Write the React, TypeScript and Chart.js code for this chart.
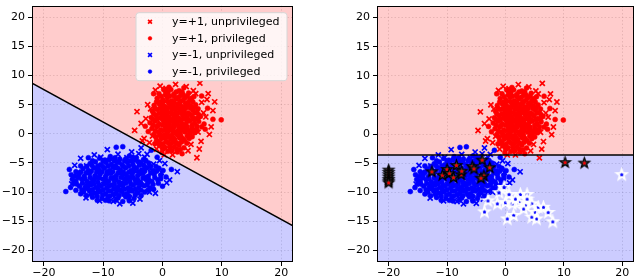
import React, { useEffect, useRef } from 'react';
import { Chart, registerables } from 'chart.js';
import { drawPoint } from 'chart.js/helpers';

Chart.register(...registerables);

// ---------- axis settings ----------
const AXIS_MIN = -22;
const AXIS_MAX = 22;
const X_TICK_STEP = 10;
const Y_TICK_STEP = 5;

// ---------- legend labels ----------
const LABELS = [
  'y=+1, unprivileged',
  'y=+1, privileged',
  'y=-1, unprivileged',
  'y=-1, privileged',
];

// ---------- data: y=+1 (red) ----------
const redUnpriv: number[][] = [
  [-4.3, 3.8], [-4.7, 0.6], [-3.1, -0.8], [6.3, 8.7], [2.2, 8.5], [-0.4, 8.2], [8.8, 5.5], [7.9, -0.1],
  [5.8, -4.1], [1.7, -3.6], [7.7, 6.9], [6.6, 5.4], [7.5, 5.9], [-2.5, 5.0], [-2.8, 2.6], [-3.4, -1.2],
  [-2.2, -1.5], [0.3, -3.6], [4.3, -2.9], [6.5, -1.3], [6.9, 3.6], [8.2, 1.2], [5.2, 7.4], [4.0, 8.1],
  [0.5, -2.6], [3.0, 6.8], [-1.2, 7.5], [4.8, -1.8], [2.6, -0.6], [0.3, 0.0], [1.5, 3.3], [3.8, 5.0],
  [-0.8, 2.3], [5.1, 2.6], [2.1, 5.5], [-1.7, -0.4], [6.2, -2.6], [7.3, 2.9], [-2.0, 4.3], [0.6, 7.8],
  [5.6, 6.9], [-3.6, 1.8], [1.9, -1.6], [4.2, 0.0], [-0.5, -1.5], [2.7, 4.0], [0.2, 5.2], [6.0, 0.3],
  [8.5, 4.0], [-1.0, -2.6],
];
const redPriv: number[][] = [
  [0.2, 7.6], [1.1, 8.0], [2.8, 7.4], [3.6, 7.9], [-0.6, 6.9], [1.9, 6.8], [4.4, 7.0], [0.9, 7.1], [3.1, 6.6],
  [-0.9, 6.1], [0.1, 5.8], [0.8, 6.3], [1.5, 5.7], [2.3, 6.0], [3.0, 5.6], [3.8, 6.2], [4.6, 5.8], [5.3, 6.4],
  [-0.3, 5.5], [2.0, 6.4], [-1.4, 4.9], [-0.5, 5.1], [0.4, 4.7], [1.1, 5.2], [1.8, 4.8], [2.6, 5.1], [3.3, 4.7],
  [4.0, 5.2], [4.8, 4.8], [5.6, 5.0], [0.0, 4.6], [2.2, 4.5], [3.9, 4.4], [-1.7, 3.9], [-0.9, 4.2], [-0.1, 3.8],
  [0.7, 4.1], [1.4, 3.7], [2.1, 4.2], [2.9, 3.8], [3.6, 4.0], [4.3, 3.6], [5.1, 4.1], [5.8, 3.7], [0.3, 3.5],
  [2.5, 3.5], [4.7, 4.4], [-1.9, 2.8], [-1.1, 3.2], [-0.4, 2.7], [0.4, 3.1], [1.2, 2.6], [1.9, 3.0], [2.7, 2.7],
  [3.4, 3.2], [4.1, 2.8], [4.9, 3.1], [5.7, 2.6], [6.4, 3.0], [0.8, 2.5], [3.0, 2.5], [-2.1, 1.9], [-1.3, 2.2],
  [-0.6, 1.7], [0.2, 2.1], [0.9, 1.6], [1.6, 2.2], [2.4, 1.8], [3.1, 2.1], [3.9, 1.6], [4.6, 2.2], [5.4, 1.8],
  [6.1, 2.1], [7.0, 1.7], [1.2, 1.5], [3.5, 1.5], [-1.8, 0.9], [-1.0, 1.2], [-0.3, 0.7], [0.5, 1.1], [1.3, 0.6],
  [2.0, 1.2], [2.8, 0.8], [3.5, 1.1], [4.3, 0.6], [5.0, 1.0], [5.8, 0.7], [0.9, 0.5], [2.4, 0.4], [-1.5, -0.1],
  [-0.7, 0.3], [0.1, -0.3], [0.8, 0.2], [1.6, -0.2], [2.3, 0.1], [3.1, -0.4], [3.8, 0.3], [4.6, -0.1], [5.4, 0.2],
  [-2.4, 0.4], [-1.0, -1.1], [-0.2, -0.8], [0.6, -1.3], [1.4, -0.9], [2.1, -1.2], [2.9, -0.7], [3.7, -1.1],
  [4.5, -0.8], [1.0, -0.6], [-0.5, -2.0], [0.4, -2.3], [1.2, -1.8], [2.0, -2.2], [2.8, -1.9], [3.6, -2.4],
  [-1.3, -1.7], [0.9, -3.0], [2.5, -3.1], [3.3, -3.4], [1.6, -2.9], [-0.1, -3.2], [9.9, 2.4], [8.5, 2.5],
  [7.6, 4.4], [-2.9, 1.3], [6.6, 6.5], [-1.5, 6.9], [7.2, 0.8],
  [0.5, 7.3], [2.3, 7.2], [1.4, 7.6], [3.3, 7.2], [-0.2, 6.4], [0.5, 6.7], [1.2, 6.5], [2.7, 6.3], [3.5, 6.7],
  [4.2, 6.5], [4.9, 6.1], [-1.0, 5.5], [0.8, 5.6], [1.9, 5.3], [2.9, 5.3], [3.5, 5.8], [4.3, 5.4], [5.1, 5.5],
  [-0.1, 5.2], [1.4, 5.0], [-1.3, 4.4], [-0.4, 4.4], [0.9, 4.5], [1.6, 4.3], [2.5, 4.6], [3.0, 4.3], [3.5, 4.5],
  [4.4, 4.9], [5.3, 4.5], [6.0, 4.3], [0.2, 4.2], [-1.5, 3.5], [-0.6, 3.5], [0.0, 3.2], [0.8, 3.6], [1.7, 3.4],
  [2.2, 3.6], [3.2, 3.6], [3.9, 3.4], [4.6, 3.4], [5.4, 3.6], [6.1, 3.3], [1.0, 3.0], [2.4, 3.1], [-1.6, 2.5],
  [-0.9, 2.6], [0.0, 2.5], [0.6, 2.8], [1.5, 2.4], [2.2, 2.5], [3.6, 2.6], [4.4, 2.4], [5.2, 2.5], [6.0, 2.7],
  [2.8, 2.3], [1.0, 2.2], [-1.6, 1.5], [-0.8, 1.4], [0.0, 1.5], [0.6, 1.8], [1.9, 1.7], [2.7, 1.4], [3.3, 1.7],
  [4.2, 1.2], [5.0, 1.5], [5.8, 1.3], [6.6, 1.2], [2.1, 2.0], [4.1, 2.1], [-1.2, 0.5], [-0.5, 0.1], [0.4, 0.6],
  [1.1, 0.9], [1.8, 0.5], [2.7, 0.3], [3.2, 0.6], [4.0, 0.9], [4.8, 0.4], [5.5, 0.6], [1.5, 1.0], [3.0, 1.2],
  [-1.1, -0.5], [-0.4, -0.3], [0.4, -0.7], [1.2, -0.4], [1.9, -0.7], [2.6, -0.2], [3.4, -0.8], [4.2, -0.4],
  [5.0, -0.5], [0.7, -0.1], [3.0, 0.0], [-0.7, -1.4], [0.1, -1.7], [0.9, -1.5], [1.7, -1.4], [2.5, -1.6],
  [3.2, -1.4], [4.1, -1.6], [1.3, -2.4], [2.4, -2.6], [0.0, -2.5], [3.0, -2.7],
];

// ---------- data: y=-1 (blue) ----------
const blueUnpriv: number[][] = [
  [-13.8, -4.2], [-10.6, -11.5], [-7.2, -12.0], [-5.0, -11.9], [-9.3, -2.7], [-3.6, -2.4], [0.4, -5.1],
  [2.5, -6.5], [-2.2, -10.0], [-14.8, -5.4], [-12.9, -11.0], [-8.3, -11.6], [-3.8, -11.2], [-1.2, -10.2],
  [1.2, -7.9], [-0.5, -4.6], [-2.6, -3.5], [-5.2, -3.1], [-11.5, -3.6], [-13.0, -8.7], [-11.0, -6.6],
  [-8.6, -4.4], [-6.3, -7.0], [-4.6, -6.3], [-2.0, -6.0], [-0.2, -6.6], [-9.9, -8.7], [-7.0, -9.5],
  [-4.4, -9.9], [-12.0, -9.6], [-15.3, -8.6], [-6.0, -4.1], [-3.0, -4.0], [-1.5, -5.2], [0.7, -8.4],
  [-8.1, -10.8], [-5.6, -11.0], [-10.4, -4.0], [-4.0, -3.4], [-7.5, -3.5], [-12.8, -5.5], [-14.3, -6.6],
];
const bluePriv: number[][] = [
  [-10.6, -4.2], [-8.8, -3.9], [-7.2, -4.3], [-5.6, -3.8], [-4.4, -4.1], [-9.7, -4.5], [-6.4, -4.6], [-3.2, -4.4],
  [-12.2, -5.1], [-11.3, -4.8], [-10.4, -5.3], [-9.5, -4.9], [-8.6, -5.2], [-7.7, -4.8], [-6.8, -5.3], [-5.9, -4.9],
  [-5.0, -5.2], [-4.1, -4.8], [-3.2, -5.3], [-2.3, -5.0], [-7.9, -5.5], [-10.9, -5.5], [-13.4, -6.0], [-12.5, -6.3],
  [-11.6, -5.8], [-10.7, -6.2], [-9.8, -5.9], [-8.9, -6.3], [-8.0, -5.8], [-7.1, -6.2], [-6.2, -5.8], [-5.3, -6.3],
  [-4.4, -5.9], [-3.5, -6.2], [-2.6, -5.8], [-1.6, -6.3], [-0.6, -5.9], [-9.3, -6.5], [-6.6, -6.5], [-4.0, -6.5],
  [-14.1, -7.0], [-13.2, -7.3], [-12.3, -6.8], [-11.4, -7.2], [-10.5, -6.9], [-9.6, -7.3], [-8.7, -6.8], [-7.8, -7.2],
  [-6.9, -6.8], [-6.0, -7.3], [-5.1, -6.9], [-4.2, -7.2], [-3.3, -6.8], [-2.4, -7.3], [-1.4, -6.9], [-0.3, -7.1],
  [-11.0, -7.5], [-8.2, -7.5], [-5.5, -7.5], [-2.9, -7.5], [-14.6, -8.1], [-13.6, -7.8], [-12.7, -8.2], [-11.8, -7.9],
  [-10.9, -8.3], [-10.0, -7.8], [-9.1, -8.2], [-8.2, -7.9], [-7.3, -8.3], [-6.4, -7.8], [-5.5, -8.2], [-4.6, -7.9],
  [-3.7, -8.3], [-2.8, -7.8], [-1.8, -8.2], [-0.8, -7.9], [-12.2, -8.5], [-9.5, -8.5], [-6.8, -8.5], [-4.1, -8.5],
  [-14.0, -9.0], [-13.0, -9.3], [-12.1, -8.8], [-11.2, -9.2], [-10.3, -8.9], [-9.4, -9.3], [-8.5, -8.8], [-7.6, -9.2],
  [-6.7, -8.9], [-5.8, -9.3], [-4.9, -8.8], [-4.0, -9.2], [-3.1, -8.9], [-2.1, -9.3], [0.0, -9.0], [-10.8, -9.5],
  [-8.0, -9.5], [-5.3, -9.5], [-13.3, -10.0], [-12.3, -9.8], [-11.4, -10.2], [-10.5, -9.9], [-9.6, -10.3],
  [-8.7, -9.8], [-7.8, -10.2], [-6.9, -9.9], [-6.0, -10.3], [-5.1, -9.8], [-4.2, -10.1], [-3.0, -10.0],
  [-11.8, -10.9], [-10.2, -11.1], [-8.9, -10.7], [-7.5, -11.0], [-6.2, -10.8], [-4.8, -11.1], [-9.6, -11.4],
  [-16.3, -9.9], [-15.7, -6.1], [-15.4, -7.0], [-14.8, -7.3], [-13.8, -10.3], [-12.5, -4.1], [-7.8, -2.3],
  [-6.7, -2.2], [-1.9, -2.8], [-0.9, -4.0], [1.5, -6.1], [-2.5, -8.4], [-15.0, -8.5],
  [-11.8, -4.6], [-10.0, -4.7], [-9.0, -4.4], [-8.1, -4.6], [-7.3, -4.9], [-6.2, -4.3], [-5.3, -4.6], [-4.6, -4.5],
  [-3.7, -4.9], [-2.8, -4.6], [-8.0, -4.1], [-5.0, -4.0], [-12.8, -5.6], [-11.9, -5.4], [-11.0, -5.9], [-10.1, -5.6],
  [-9.2, -5.5], [-8.4, -5.7], [-7.5, -5.9], [-6.6, -5.6], [-5.7, -5.5], [-4.8, -5.7], [-3.9, -5.4], [-3.0, -5.7],
  [-2.1, -5.5], [-1.1, -5.6], [-13.8, -5.5], [-14.6, -6.5], [-13.8, -6.6], [-12.9, -6.7], [-12.0, -6.4], [-11.1, -6.6],
  [-10.2, -6.5], [-9.4, -6.9], [-8.4, -6.5], [-7.5, -6.7], [-6.5, -6.9], [-5.7, -6.6], [-4.8, -6.4], [-3.9, -6.9],
  [-3.0, -6.4], [-2.0, -6.7], [-1.0, -6.4], [0.1, -6.3], [-15.2, -7.8], [-14.2, -7.5], [-13.1, -7.7], [-12.2, -7.5],
  [-11.5, -7.9], [-10.6, -7.6], [-9.6, -7.8], [-8.7, -7.6], [-7.8, -7.9], [-7.0, -7.5], [-6.0, -7.8], [-5.0, -7.5],
  [-4.2, -7.9], [-3.3, -7.6], [-2.3, -7.9], [-1.3, -7.5], [-0.3, -7.7], [0.6, -7.4], [-15.5, -9.2], [-14.5, -8.6],
  [-13.5, -8.5], [-12.6, -8.9], [-11.6, -8.6], [-10.7, -8.8], [-9.8, -8.5], [-9.0, -8.9], [-8.1, -8.6], [-7.2, -8.8],
  [-6.2, -8.5], [-5.3, -8.7], [-4.5, -8.4], [-3.5, -8.7], [-2.6, -8.8], [-1.6, -8.7], [-0.7, -8.5], [-14.6, -9.7],
  [-13.6, -9.6], [-12.7, -9.4], [-11.8, -9.6], [-10.9, -10.0], [-10.0, -9.6], [-9.1, -9.8], [-8.2, -9.4], [-7.3, -9.7],
  [-6.4, -9.5], [-5.6, -9.8], [-4.6, -9.5], [-3.6, -9.7], [-2.5, -9.7], [-1.5, -9.5], [-12.8, -10.6], [-12.0, -10.4],
  [-11.0, -10.7], [-10.1, -10.5], [-9.2, -10.8], [-8.3, -10.4], [-7.3, -10.6], [-6.5, -10.4], [-5.6, -10.7],
  [-4.6, -10.5], [-3.6, -10.6], [-11.0, -11.4], [-9.0, -11.5], [-7.9, -11.4], [-6.7, -11.6], [-5.6, -11.5],
];

// ---------- decision boundaries ----------
const boundaryLeft: number[][] = [[-22, 8.7], [22, -15.8]];
const boundaryRight: number[][] = [[-22, -3.6], [22, -3.6]];

// ---------- right panel: highlighted points ----------
const blackStars: number[][] = [
  [-20, -6.2], [-20, -6.6], [-20, -7.0], [-20, -7.4], [-20, -7.8], [-20, -8.1], [-20, -8.4],
  [-12.6, -6.5], [-10.8, -7.1], [-10.0, -6.1], [-9.6, -6.8], [-8.9, -7.5], [-8.4, -5.4], [-7.6, -7.0],
  [-7.5, -6.4], [-5.7, -5.6], [-5.4, -6.0], [-4.0, -4.5], [-3.7, -7.2], [-2.7, -5.8], [-4.2, -7.6],
  [10.2, -4.9], [13.5, -5.0],
];
const whiteStars: number[][] = [
  [-0.25, -9.2], [0.6, -10.4], [2.55, -10.4], [3.7, -10.4], [-1.4, -12.0], [0.0, -11.8], [1.15, -12.0],
  [2.3, -11.8], [3.4, -12.3], [4.5, -12.0], [5.6, -12.6], [6.5, -12.6], [5.1, -13.5], [5.3, -14.6],
  [7.3, -13.5], [8.1, -15.1], [1.4, -14.0], [0.3, -14.6], [-3.6, -13.4], [-3.0, -11.5], [3.7, -11.2],
  [4.5, -14.3], [3.1, -12.9], [-1.1, -10.1], [1.7, -11.2], [19.9, -7.0],
];

// ---------- colours ----------
const RED = '#ff0000';
const BLUE = '#0000ff';
const RED_REGION = 'rgba(255,0,0,0.2)';
const BLUE_REGION = 'rgba(0,0,255,0.2)';
const FONT = 'DejaVu Sans';

const toXY = (arr: number[][]) => arr.map(([x, y]) => ({ x, y }));

const fmtTick = (v: any) => {
  const n = Number(v);
  return n < 0 ? '\u2212' + Math.abs(n) : String(n);
};

function makeStar(fill: string | null, stroke: string, lw: number, dot: string) {
  const size = 15;
  const c = document.createElement('canvas');
  c.width = size;
  c.height = size;
  const g = c.getContext('2d')!;
  const cx = size / 2;
  const cy = size / 2;
  const outer = 5.6;
  const inner = 2.3;
  g.beginPath();
  for (let i = 0; i < 10; i++) {
    const r = i % 2 === 0 ? outer : inner;
    const a = -Math.PI / 2 + (i * Math.PI) / 5;
    const px = cx + r * Math.cos(a);
    const py = cy + r * Math.sin(a);
    if (i === 0) g.moveTo(px, py);
    else g.lineTo(px, py);
  }
  g.closePath();
  if (fill) {
    g.fillStyle = fill;
    g.fill();
  }
  g.lineJoin = 'miter';
  g.lineWidth = lw;
  g.strokeStyle = stroke;
  g.stroke();
  g.beginPath();
  g.arc(cx, cy, 1.5, 0, Math.PI * 2);
  g.fillStyle = dot;
  g.fill();
  return c;
}

const framePlugin = {
  id: 'frame',
  afterDraw(chart: any) {
    const { ctx, chartArea } = chart;
    ctx.save();
    ctx.strokeStyle = '#000';
    ctx.lineWidth = 1;
    ctx.strokeRect(
      Math.round(chartArea.left) + 0.5,
      Math.round(chartArea.top) + 0.5,
      Math.round(chartArea.right - chartArea.left) - 1,
      Math.round(chartArea.bottom - chartArea.top) - 1
    );
    ctx.restore();
  },
};

const boxLegendPlugin = {
  id: 'boxLegend',
  afterDraw(chart: any) {
    const { ctx, chartArea } = chart;
    const entries = chart.data.datasets.filter((d: any) => LABELS.includes(d.label));
    const w = 151;
    const rowH = 16.6;
    const h = 68;
    const x0 = chartArea.right - 6 - w;
    const y0 = chartArea.top + 7;
    const r = 3;
    ctx.save();
    ctx.beginPath();
    ctx.moveTo(x0 + r, y0);
    ctx.arcTo(x0 + w, y0, x0 + w, y0 + h, r);
    ctx.arcTo(x0 + w, y0 + h, x0, y0 + h, r);
    ctx.arcTo(x0, y0 + h, x0, y0, r);
    ctx.arcTo(x0, y0, x0 + w, y0, r);
    ctx.closePath();
    ctx.fillStyle = 'rgba(255,255,255,0.8)';
    ctx.fill();
    ctx.strokeStyle = '#d6d6d6';
    ctx.lineWidth = 1;
    ctx.stroke();
    entries.forEach((d: any, i: number) => {
      const y = y0 + 9 + i * rowH;
      const mx = x0 + 14;
      ctx.fillStyle = d.backgroundColor;
      ctx.strokeStyle = d.borderColor;
      ctx.lineWidth = d.borderWidth;
      drawPoint(ctx, { pointStyle: d.pointStyle, radius: d.pointRadius * 0.75, rotation: 0, borderWidth: d.borderWidth } as any, mx, y);
      ctx.fillStyle = '#000';
      ctx.font = `11px "${FONT}"`;
      ctx.textBaseline = 'middle';
      ctx.textAlign = 'left';
      ctx.fillText(d.label, x0 + 36, y + 0.5);
    });
    ctx.restore();
  },
};

function makeScales(yWidth: number) {
  const grid = {
    color: 'rgba(160,160,160,0.4)',
    lineWidth: 0.8,
    tickColor: '#000',
    tickLength: 4,
    tickWidth: 1,
  };
  return {
    x: {
      type: 'linear',
      min: AXIS_MIN,
      max: AXIS_MAX,
      ticks: { stepSize: X_TICK_STEP, includeBounds: false, color: '#000', font: { family: FONT, size: 11 }, padding: 1, maxRotation: 0, callback: fmtTick },
      grid,
      border: { display: false, dash: [1.5, 2] },
      afterFit: (s: any) => {
        s.height = 18;
        s.paddingLeft = 0;
        s.paddingRight = 0;
        if (s._margins) {
          s._margins.left = 0;
          s._margins.right = 0;
        }
      },
    },
    y: {
      type: 'linear',
      min: AXIS_MIN,
      max: AXIS_MAX,
      ticks: { stepSize: Y_TICK_STEP, includeBounds: false, color: '#000', font: { family: FONT, size: 11, lineHeight: 0.01 }, padding: 3, callback: fmtTick },
      grid,
      border: { display: false, dash: [1.5, 2] },
      afterFit: (s: any) => {
        s.width = yWidth;
        s.paddingTop = 0;
        s.paddingBottom = 0;
        if (s._margins) {
          s._margins.top = 0;
          s._margins.bottom = 0;
        }
      },
    },
  };
}

function regionDatasets(boundary: number[][]) {
  return [
    {
      type: 'line',
      data: toXY(boundary),
      showLine: true,
      borderColor: '#000',
      borderWidth: 1.5,
      pointRadius: 0,
      fill: false,
      order: 0,
    },
    {
      type: 'line',
      data: toXY(boundary),
      showLine: true,
      borderColor: 'transparent',
      borderWidth: 0,
      pointRadius: 0,
      backgroundColor: RED_REGION,
      fill: 'end',
      order: 20,
    },
    {
      type: 'line',
      data: toXY(boundary),
      showLine: true,
      borderColor: 'transparent',
      borderWidth: 0,
      pointRadius: 0,
      backgroundColor: BLUE_REGION,
      fill: 'start',
      order: 21,
    },
  ];
}

function pointDatasets() {
  return [
    { type: 'scatter', label: LABELS[0], data: toXY(redUnpriv), pointStyle: 'crossRot', pointRadius: 3.6, borderWidth: 1.7, borderColor: RED, backgroundColor: RED, order: 8 },
    { type: 'scatter', label: LABELS[1], data: toXY(redPriv), pointStyle: 'circle', pointRadius: 2.5, borderWidth: 0.5, borderColor: RED, backgroundColor: RED, order: 7 },
    { type: 'scatter', label: LABELS[2], data: toXY(blueUnpriv), pointStyle: 'crossRot', pointRadius: 3.6, borderWidth: 1.7, borderColor: BLUE, backgroundColor: BLUE, order: 6 },
    { type: 'scatter', label: LABELS[3], data: toXY(bluePriv), pointStyle: 'circle', pointRadius: 2.5, borderWidth: 0.5, borderColor: BLUE, backgroundColor: BLUE, order: 5 },
  ];
}

function baseOptions(yWidth: number, padding: any) {
  return {
    responsive: false,
    animation: false,
    events: [],
    layout: { padding },
    plugins: { legend: { display: false }, tooltip: { enabled: false }, title: { display: false } },
    scales: makeScales(yWidth),
  };
}

export default function App() {
  const leftRef = useRef<HTMLCanvasElement>(null);
  const rightRef = useRef<HTMLCanvasElement>(null);

  useEffect(() => {
    const blackStar = makeStar('#3c3c3c', '#000', 1.2, RED);
    const whiteStar = makeStar(null, '#ffffff', 1.6, BLUE);

    const left = new Chart(leftRef.current!, {
      type: 'scatter',
      data: { datasets: [...regionDatasets(boundaryLeft), ...pointDatasets()] as any },
      options: baseOptions(32, { left: 0, right: 27, top: 1, bottom: 0 }) as any,
      plugins: [framePlugin, boxLegendPlugin],
    });

    const right = new Chart(rightRef.current!, {
      type: 'scatter',
      data: {
        datasets: [
          ...regionDatasets(boundaryRight),
          ...pointDatasets(),
          { type: 'scatter', label: 'stars-black', data: toXY(blackStars), pointStyle: blackStar, pointRadius: 5, order: 2 },
          { type: 'scatter', label: 'stars-white', data: toXY(whiteStars), pointStyle: whiteStar, pointRadius: 5, order: 3 },
        ] as any,
      },
      options: baseOptions(32, { left: 25, right: 2, top: 1, bottom: 0 }) as any,
      plugins: [framePlugin],
    });

    return () => {
      left.destroy();
      right.destroy();
    };
  }, []);

  return (
    <div style={{ position: 'absolute', left: 0, top: 0, width: 640, height: 280, background: '#fff' }}>
      <canvas ref={leftRef} width={320} height={280} style={{ position: 'absolute', left: 0, top: 0, width: 320, height: 280 }} />
      <canvas ref={rightRef} width={320} height={280} style={{ position: 'absolute', left: 320, top: 0, width: 320, height: 280 }} />
    </div>
  );
}
